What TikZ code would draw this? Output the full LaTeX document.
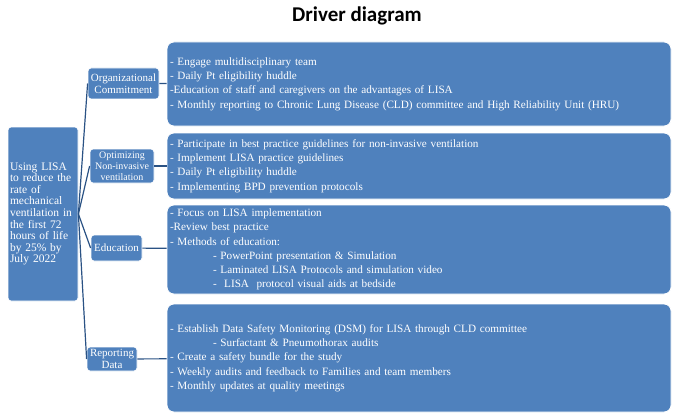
\documentclass[tikz,border=0pt]{standalone}
\usepackage{fontspec}
\setmainfont{Liberation Serif}
\newfontfamily\titlefont{Carlito}
\definecolor{boxblue}{RGB}{79,129,189}
\definecolor{linkblue}{RGB}{42,82,132}
\newcommand{\Ind}{\hspace*{43pt}}

\begin{document}
\begin{tikzpicture}[x=1pt,y=-1pt,
  box/.style={draw=white,line width=0.8pt,fill=boxblue,text=white,rounded corners=3pt,inner sep=1pt},
  driver/.style={box,align=center,font=\fontsize{11}{12}\selectfont},
  detail/.style={box,rounded corners=7pt,text width=498pt,inner xsep=3pt,align=left,font=\fontsize{11.2}{14.3}\selectfont},
  link/.style={draw=linkblue,line width=1.2pt}]
\useasboundingbox (0,0) rectangle (676,417);
\node[font=\titlefont\bfseries\fontsize{21}{24}\selectfont] (title) at (357,16) {Driver diagram};
\node[box,minimum width=70pt,minimum height=174pt,text width=66pt,align=left,font=\fontsize{11.5}{11.6}\selectfont] (goal) at (43,214)
  {Using LISA\\to reduce the\\rate of\\mechanical\\ventilation in\\the first 72\\hours of life\\by 25\% by\\July 2022};
\node[driver,minimum width=71pt,minimum height=31pt] (org) at (123.5,83.5) {Organizational\\Commitment};
\node[driver,minimum width=64pt,minimum height=34pt,font=\fontsize{10}{11}\selectfont] (opt) at (122,166) {Optimizing\\Non-invasive\\ventilation};
\node[driver,minimum width=51pt,minimum height=26pt] (edu) at (116.5,248) {Education};
\node[driver,minimum width=50pt,minimum height=24pt] (rep) at (112,359) {Reporting\\Data};
\node[detail,minimum height=84pt] (orgd) at (419,84)
  {- Engage multidisciplinary team\\- Daily Pt eligibility huddle\\-Education of staff and caregivers on the advantages of LISA\\- Monthly reporting to Chronic Lung Disease (CLD) committee and High Reliability Unit (HRU)};
\node[detail,minimum height=66pt] (optd) at (419,166)
  {- Participate in best practice guidelines for non-invasive ventilation\\- Implement LISA practice guidelines\\- Daily Pt eligibility huddle\\- Implementing BPD prevention protocols};
\node[detail,minimum height=89pt] (edud) at (419,249.5)
  {- Focus on LISA implementation\\-Review best practice\\- Methods of education:\\\Ind- PowerPoint presentation \& Simulation\\\Ind- Laminated LISA Protocols and simulation video\\\Ind-\ \ LISA\ \ protocol visual aids at bedside};
\node[detail,minimum height=108pt] (repd) at (419,358)
  {- Establish Data Safety Monitoring (DSM) for LISA through CLD committee\\\Ind- Surfactant \& Pneumothorax audits\\- Create a safety bundle for the study\\- Weekly audits and feedback to Families and team members\\- Monthly updates at quality meetings};
\draw[link] (goal.east) -- (org.west);
\draw[link] (goal.east) -- (opt.west);
\draw[link] (goal.east) -- (edu.west);
\draw[link] (goal.east) -- (rep.west);
\draw[link] (org) -- (orgd);
\draw[link] (opt) -- (optd);
\draw[link] (edu) -- (edud);
\draw[link] (rep) -- (repd);
\end{tikzpicture}
\end{document}
